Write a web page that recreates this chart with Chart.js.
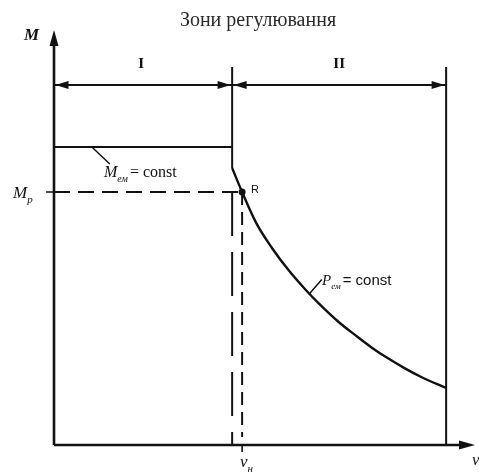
<!DOCTYPE html>
<html lang="uk">
<head>
<meta charset="utf-8">
<title>Зони регулювання</title>
<script src="https://cdn.jsdelivr.net/npm/chart.js@4.4.1/dist/chart.umd.min.js"></script>
<style>
  html, body { margin: 0; padding: 0; background: #fff; }
  canvas { display: block; }
</style>
</head>
<body>
<canvas id="zones" width="479" height="472"></canvas>
<script>
'use strict';

// speed ν along x, torque M along y (drawing units)
const NU_MAX = 105.75;
const M_MAX = 103.75;

const zoneEdges = [0, 44.75, 98.5];
const zoneNames = ['I', 'II'];
const zoneArrowM = 90;
const zoneTopM = 94.5;

const mConst = 74.5;   // M_ем = const, zone I
const nuNom = 47.25;   // ν_н
const mNom = 63.25;    // M_р

// P_ем = const branch, from the zone boundary to the right edge
const curveNu = [44.75, 47.25, 50.75, 54.75, 59, 63.25, 66.5, 71.5, 75.75, 79.75, 84, 88.25, 92.25, 98.5];
const curveM  = [69.25, 63.25, 55.6, 49.25, 43.6, 38.75, 35.4, 30.75, 27.4, 24.4, 21.6, 19.1, 17, 14.25];

const INK = '#111';
const SERIF = '"Liberation Serif", "DejaVu Serif", serif';
const SANS = '"Liberation Sans", Arial, sans-serif';

function seg(points, width, dash) {
  return {
    type: 'line',
    data: points.map(p => ({ x: p[0], y: p[1] })),
    borderColor: INK,
    borderWidth: width,
    borderDash: dash || [],
    pointRadius: 0,
    tension: 0,
    fill: false
  };
}

const curvePts = curveNu.map((nu, i) => [nu, curveM[i]]);

const datasets = [
  seg([[zoneEdges[1], zoneTopM], [curveNu[0], curveM[0]]], 2),       // boundary I/II, solid part
  seg([[zoneEdges[2], zoneTopM], [zoneEdges[2], 0]], 2),              // right edge of zone II
  seg([[zoneEdges[1], mNom], [zoneEdges[1], 0]], 2, [44, 16]),        // boundary I/II, dashed part
  seg([[0, mConst], [zoneEdges[1], mConst]], 2.2),                    // M_ем = const
  seg([[0, mNom], [nuNom, mNom]], 2, [16, 8]),                        // M_р
  seg([[nuNom, mNom], [nuNom, 2]], 2, [13, 7]),                       // ν_н
  seg([[zoneEdges[0], zoneArrowM], [zoneEdges[2], zoneArrowM]], 2),  // zone span arrows
  Object.assign(seg(curvePts, 2.4), { cubicInterpolationMode: 'monotone' }),
  {
    type: 'scatter',
    data: [{ x: nuNom, y: mNom }],
    pointRadius: 3.5,
    pointBackgroundColor: INK,
    pointBorderWidth: 0
  }
];

function arrowHead(ctx, x, y, dx, dy, len, half) {
  const n = Math.hypot(dx, dy);
  const ux = dx / n, uy = dy / n;
  ctx.beginPath();
  ctx.moveTo(x, y);
  ctx.lineTo(x - ux * len - uy * half, y - uy * len + ux * half);
  ctx.lineTo(x - ux * len + uy * half, y - uy * len - ux * half);
  ctx.closePath();
  ctx.fill();
}

// text with an italic letter and a lowered subscript
function subText(ctx, x, y, main, sub, rest, size, restFont) {
  ctx.textAlign = 'left';
  ctx.textBaseline = 'alphabetic';
  ctx.font = 'italic ' + size + 'px ' + SERIF;
  ctx.fillText(main, x, y);
  x += ctx.measureText(main).width;
  ctx.font = 'italic ' + Math.round(size * 0.62) + 'px ' + SERIF;
  ctx.fillText(sub, x, y + size * 0.3);
  x += ctx.measureText(sub).width + 2;
  if (rest) {
    ctx.font = size + 'px ' + (restFont || SERIF);
    ctx.fillText(rest, x, y);
  }
}

const annotate = {
  id: 'annotate',
  afterDatasetsDraw(chart) {
    const { ctx } = chart;
    const sx = chart.scales.x, sy = chart.scales.y;
    const px = v => sx.getPixelForValue(v);
    const py = v => sy.getPixelForValue(v);
    const x0 = px(0), y0 = py(0);

    ctx.save();
    ctx.fillStyle = INK;
    ctx.strokeStyle = INK;
    ctx.lineCap = 'butt';

    // axes with arrows
    ctx.lineWidth = 2.6;
    ctx.beginPath();
    ctx.moveTo(x0, y0);
    ctx.lineTo(x0, py(M_MAX) + 10);
    ctx.moveTo(x0, y0);
    ctx.lineTo(px(NU_MAX) - 10, y0);
    ctx.stroke();
    arrowHead(ctx, x0, py(M_MAX), 0, -1, 16, 4.5);
    arrowHead(ctx, px(NU_MAX), y0, 1, 0, 16, 4.5);

    // double arrows for each zone
    const ya = py(zoneArrowM);
    for (let i = 0; i < zoneNames.length; i++) {
      const a = px(zoneEdges[i]) + 1.5, b = px(zoneEdges[i + 1]) - 1.5;
      arrowHead(ctx, a, ya, -1, 0, 13, 4);
      arrowHead(ctx, b, ya, 1, 0, 13, 4);
      ctx.font = 'bold 15px ' + SERIF;
      ctx.textAlign = 'center';
      ctx.textBaseline = 'middle';
      ctx.fillText(zoneNames[i], (a + b) / 2 + (i ? 0 : -2), ya - 21);
    }

    // small ticks at M_р and ν_н
    ctx.lineWidth = 1.6;
    ctx.beginPath();
    ctx.moveTo(x0 - 8, py(mNom));
    ctx.lineTo(x0, py(mNom));
    ctx.moveTo(px(nuNom), y0);
    ctx.lineTo(px(nuNom), y0 + 7);
    ctx.stroke();

    // leader lines
    ctx.lineWidth = 1.5;
    ctx.beginPath();
    ctx.moveTo(px(9.5), py(mConst));
    ctx.lineTo(px(9.5) + 18, py(mConst) + 17);
    ctx.moveTo(px(64), py(37.6));
    ctx.lineTo(px(64) + 13, py(37.6) - 15);
    ctx.stroke();

    // title and axis names
    ctx.font = '20px ' + SERIF;
    ctx.textAlign = 'center';
    ctx.textBaseline = 'middle';
    ctx.fillStyle = '#2a2a2a';
    ctx.fillText('Зони регулювання', 258, 21);
    ctx.fillStyle = INK;

    ctx.font = 'italic bold 17px ' + SERIF;
    ctx.textAlign = 'right';
    ctx.fillText('M', 39, 36);

    subText(ctx, 13, py(mNom) + 6, 'M', 'р', '', 17);
    subText(ctx, 104, py(mConst) + 30, 'M', 'ем', '= const', 16);
    subText(ctx, 322, py(37.6) - 10, 'P', 'ем', '= const', 15, SANS);

    ctx.font = '11px ' + SANS;
    ctx.textAlign = 'left';
    ctx.textBaseline = 'middle';
    ctx.fillText('R', px(nuNom) + 9, py(mNom) - 2);

    subText(ctx, 240, y0 + 22, 'ν', 'н', '', 17);
    ctx.font = 'italic 17px ' + SERIF;
    ctx.fillText('ν', px(NU_MAX) - 3, y0 + 20);

    ctx.restore();
  }
};

new Chart(document.getElementById('zones'), {
  data: { datasets },
  options: {
    responsive: false,
    animation: false,
    devicePixelRatio: 1,
    layout: { padding: { left: 54, right: 2, top: 30, bottom: 27 } },
    scales: {
      x: { type: 'linear', min: 0, max: NU_MAX, display: false },
      y: { type: 'linear', min: 0, max: M_MAX, display: false }
    },
    plugins: {
      legend: { display: false },
      tooltip: { enabled: false },
      title: { display: false }
    }
  },
  plugins: [annotate]
});
</script>
</body>
</html>
